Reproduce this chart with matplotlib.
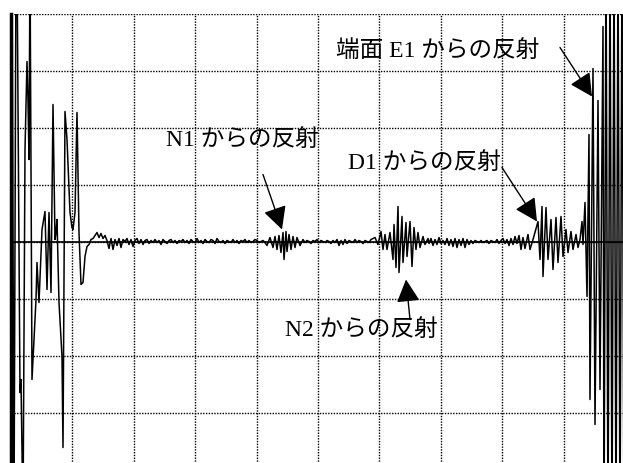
import numpy as np
import matplotlib
matplotlib.use("Agg")
import matplotlib.pyplot as plt
from matplotlib.patches import Rectangle

# Waveform: time in samples, amplitude in ADC counts (one division = 57 counts)
# Initial transmit pulse (saturated at the start)
pulse_t = [0, 1, 3, 5, 6, 9, 10, 12, 14, 16, 17, 18, 19, 20, 21, 23, 25, 26, 28,
           31, 34, 36, 38, 40, 42, 44, 45, 46, 48, 51, 52, 54, 56, 59, 61, 62, 64,
           66, 68, 70, 72, 74, 76, 78, 80]
pulse_a = [0, 282, -278, 282, 282, -151, -138, -278, 92, 180, 142, 82, 282, 82,
           -138, -98, -58, -21, -61, 12, 30, -48, 29, -51, 137, 2, 9, 22, -61,
           -115, -206, 130, 102, 29, 14, 12, 29, 129, 9, -43, -41, -15, -5, -3, 2]

# Baseline noise after the pulse (every 2 samples from t=82)
noise1_start = 82
noise1_a = [3, 6, 9, 4, 8, 3, 6, 1, -7, 3, -8, 2, -4, 3, -6, 2, 0, 3, -3, 2, -5,
            1, 3, -2, 2, -3, 1, 2, -2, 1, -1, 2, -1, 1, -3, 2, 0, -2, 1, 2, -1, 1,
            -2, 1, 0, 2, -1, 1, -2, 2, 0, -1, 3, -1, 1, -2, 2, 0, -1, 2, 1, -2, 3,
            0, -1, 1, -2, 1, 0, -1, 2, -1, 1, -2, 1, 0, 2, -1, 1, -1, 0, 2, 1, -1,
            0, 1, -1]

# Echo from N1
n1_t = [256, 259, 262, 264, 266, 268, 270, 272, 273, 275, 276, 278, 280, 282,
        284, 286, 289, 292]
n1_a = [-4, 4, -6, 5, -8, 6, -11, 9, -18, 10, -10, 7, -8, 5, -6, 4, -4, 2]

noise2_start = 294
noise2_a = [-1, 1, 0, -2, 1, 0, 2, -1, 1, 0, -1, 1, 0, -2, 1, -1, 2, -4, 1, -3,
            2, -2, 1, 0, -1, 2, -1, 1, 0, -2, 1, 0, -1, 2]

# Echo from N2
n2_t = [364, 367, 370, 372, 374, 376, 379, 382, 383, 385, 387, 388, 391, 392,
        395, 396, 399, 401, 403, 405, 407, 409, 412, 414, 417]
n2_a = [4, -3, 10, -8, 7, -8, 9, -18, 17, -26, 35, -31, 25, -21, 19, -15, 20,
        -25, 14, -8, 9, -6, 5, -3, 3]

noise3_start = 418
noise3_a = [-2, 3, -4, 2, -3, 4, -2, 1, -3, 3, -4, 2, -5, 3, -6, 2, -4, 3, -6, 2,
            -3, 1, -2, 1, 0, -1, 1, -1, 0, 1, -2, 1, 0, -1, 2, -2, 1, 3, -2, 2,
            -4, 3, -3, 5, -2, 6, -8, 4, -7]

# Echo from D1
d1_t = [517, 519, 522, 527, 529, 531, 532, 535, 537, 540, 542, 545, 547, 550,
        552, 555, 557, 560, 562, 565, 567, 569, 571]
d1_a = [7, -8, 2, 20, -18, 35, -35, 34, -18, 22, -28, 24, -21, 25, -15, 12, -11,
        10, -8, 7, -6, 2, 20]

# Echo from the end face E1 (saturates)
e1_t = [572, 574, 576, 578, 579, 582, 584, 587, 589, 592, 593, 595, 597, 599,
        601, 603, 605, 607, 609, 611, 613, 614]
e1_a = [-3, 39, -55, 107, -158, 173, -183, 141, -148, 215, -300, 300, -300, 300,
        -300, 300, -300, 300, -300, 300, -300, 0]

t = np.concatenate([
    pulse_t,
    noise1_start + 2 * np.arange(len(noise1_a)),
    n1_t,
    noise2_start + 2 * np.arange(len(noise2_a)),
    n2_t,
    noise3_start + 2 * np.arange(len(noise3_a)),
    d1_t,
    e1_t,
])
a = np.concatenate([pulse_a, noise1_a, n1_a, noise2_a, n2_a, noise3_a, d1_a, e1_a])

fig = plt.figure(figsize=(6.23, 4.64), dpi=100)
ax = fig.add_axes([11 / 623, -6.5 / 464, 614 / 623, 456 / 464])
ax.set_xlim(0, 614)
ax.set_ylim(-228, 228)

ax.set_xticks(np.linspace(0, 614, 11))
ax.set_yticks(np.linspace(-228, 228, 9))
ax.tick_params(length=0, labelbottom=False, labelleft=False)
ax.grid(True, color="black", linestyle=(0, (1.0, 1.0)), linewidth=1.0, zorder=0)
ax.set_axisbelow(True)
for side in ("top", "right", "bottom"):
    ax.spines[side].set_visible(False)
ax.spines["left"].set_linewidth(2.5)
ax.axhline(0, color="black", linewidth=1.2, zorder=1)

# White backgrounds behind the captions
label_boxes = [
    (299, 149, 255, 80),   # E1
    (132, 64, 210, 73),    # N1
    (314, 39, 241, 63),    # D1
    (250, -120, 200, 60),  # N2
]
for x0, y0, w, h in label_boxes:
    ax.add_patch(Rectangle((x0, y0), w, h, facecolor="white", edgecolor="none",
                           zorder=0.5))

ax.plot(t, a, color="black", linewidth=1.1, zorder=2)

fam = ["Liberation Serif", "Noto Sans CJK JP"]
captions = [
    ("端面 E1 からの反射", (427, 192), (549, 194), (581, 145)),
    ("N1 からの反射", (231, 102), (252, 67), (271, 12)),
    ("D1 からの反射", (413, 79), (491, 74), (526, 20)),
    ("N2 からの反射", (350, -88), (399, -78), (395, -38)),
]
for text, pos, tail, tip in captions:
    ax.text(pos[0], pos[1], text, fontsize=17, family=fam, ha="center",
            va="center", zorder=5)
    ax.annotate("", xy=tip, xytext=tail, zorder=6,
                arrowprops=dict(arrowstyle="-|>,head_length=0.7,head_width=0.36",
                                mutation_scale=20, color="black", lw=1.0,
                                shrinkA=0, shrinkB=0))

fig.savefig("out.png", dpi=100)
